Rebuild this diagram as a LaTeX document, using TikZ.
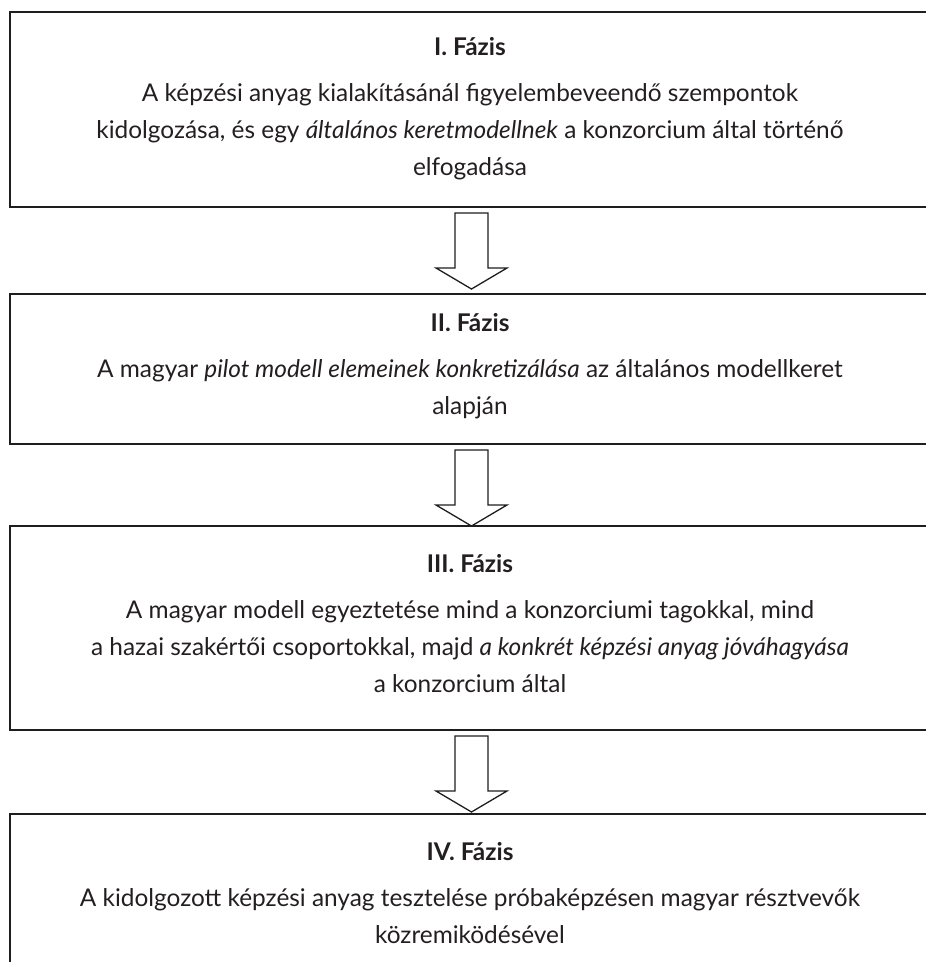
\documentclass[tikz,border=0pt]{standalone}
\usepackage{fontspec}
\setmainfont{Lato}
\definecolor{textc}{HTML}{231F20}
\definecolor{linec}{HTML}{1E1E1E}
\begin{document}
\begin{tikzpicture}[x=1pt,y=-1pt,
  phasebox/.style={draw=linec, line width=2pt, anchor=north west, minimum width=950pt, inner sep=0pt},
  ttl/.style={anchor=base, text=textc, inner sep=0pt, font=\fontsize{24.4}{37}\selectfont\bfseries},
  body/.style={anchor=base, align=center, text=textc, inner sep=0pt, font=\fontsize{24.4}{37}\selectfont},
  bigarrow/.style={draw=linec, line width=1.3pt, fill=white, line join=miter}
]
\useasboundingbox (0,0) rectangle (926,962);
% boxes
\node[phasebox, minimum height=195pt] (b1) at (9,11) {};
\node[phasebox, minimum height=150pt] (b2) at (9,293) {};
\node[phasebox, minimum height=204pt] (b3) at (9,525) {};
\node[phasebox, minimum height=200pt] (b4) at (9,813) {};
% arrows
\foreach \b in {b1,b2,b3}{
  \coordinate (a\b) at (471.5,0 |- \b.south);
  \draw[bigarrow] ([shift={(-16.5,5)}]a\b) -- ([shift={(16.5,5)}]a\b) -- ([shift={(16.5,60)}]a\b)
     -- ([shift={(35.5,60)}]a\b) -- ([shift={(0,81)}]a\b) -- ([shift={(-35.5,60)}]a\b)
     -- ([shift={(-16.5,60)}]a\b) -- cycle;
}
% texts (body nodes anchored at the baseline of their last line)
\node[ttl] (t1) at (470,55) {I. Fázis};
\node[body] (x1) at (470,175) {A képzési anyag kialakításánál figyelembeveendő szempontok\\kidolgozása, és egy \textit{általános keretmodellnek} a konzorcium által történő\\elfogadása};
\node[ttl] (t2) at (470,331) {II. Fázis};
\node[body] (x2) at (470,414) {A magyar \textit{pilot modell elemeinek konkretizálása} az általános modellkeret\\alapján};
\node[ttl] (t3) at (470,572) {III. Fázis};
\node[body] (x3) at (470,692) {A magyar modell egyeztetése mind a konzorciumi tagokkal, mind\\a hazai szakértői csoportokkal, majd \textit{a konkrét képzési anyag jóváhagyása}\\a konzorcium által};
\node[ttl] (t4) at (470,860) {IV. Fázis};
\node[body] (x4) at (470,943) {A kidolgozott képzési anyag tesztelése próbaképzésen magyar résztvevők\\közremiködésével};
\end{tikzpicture}
\end{document}
